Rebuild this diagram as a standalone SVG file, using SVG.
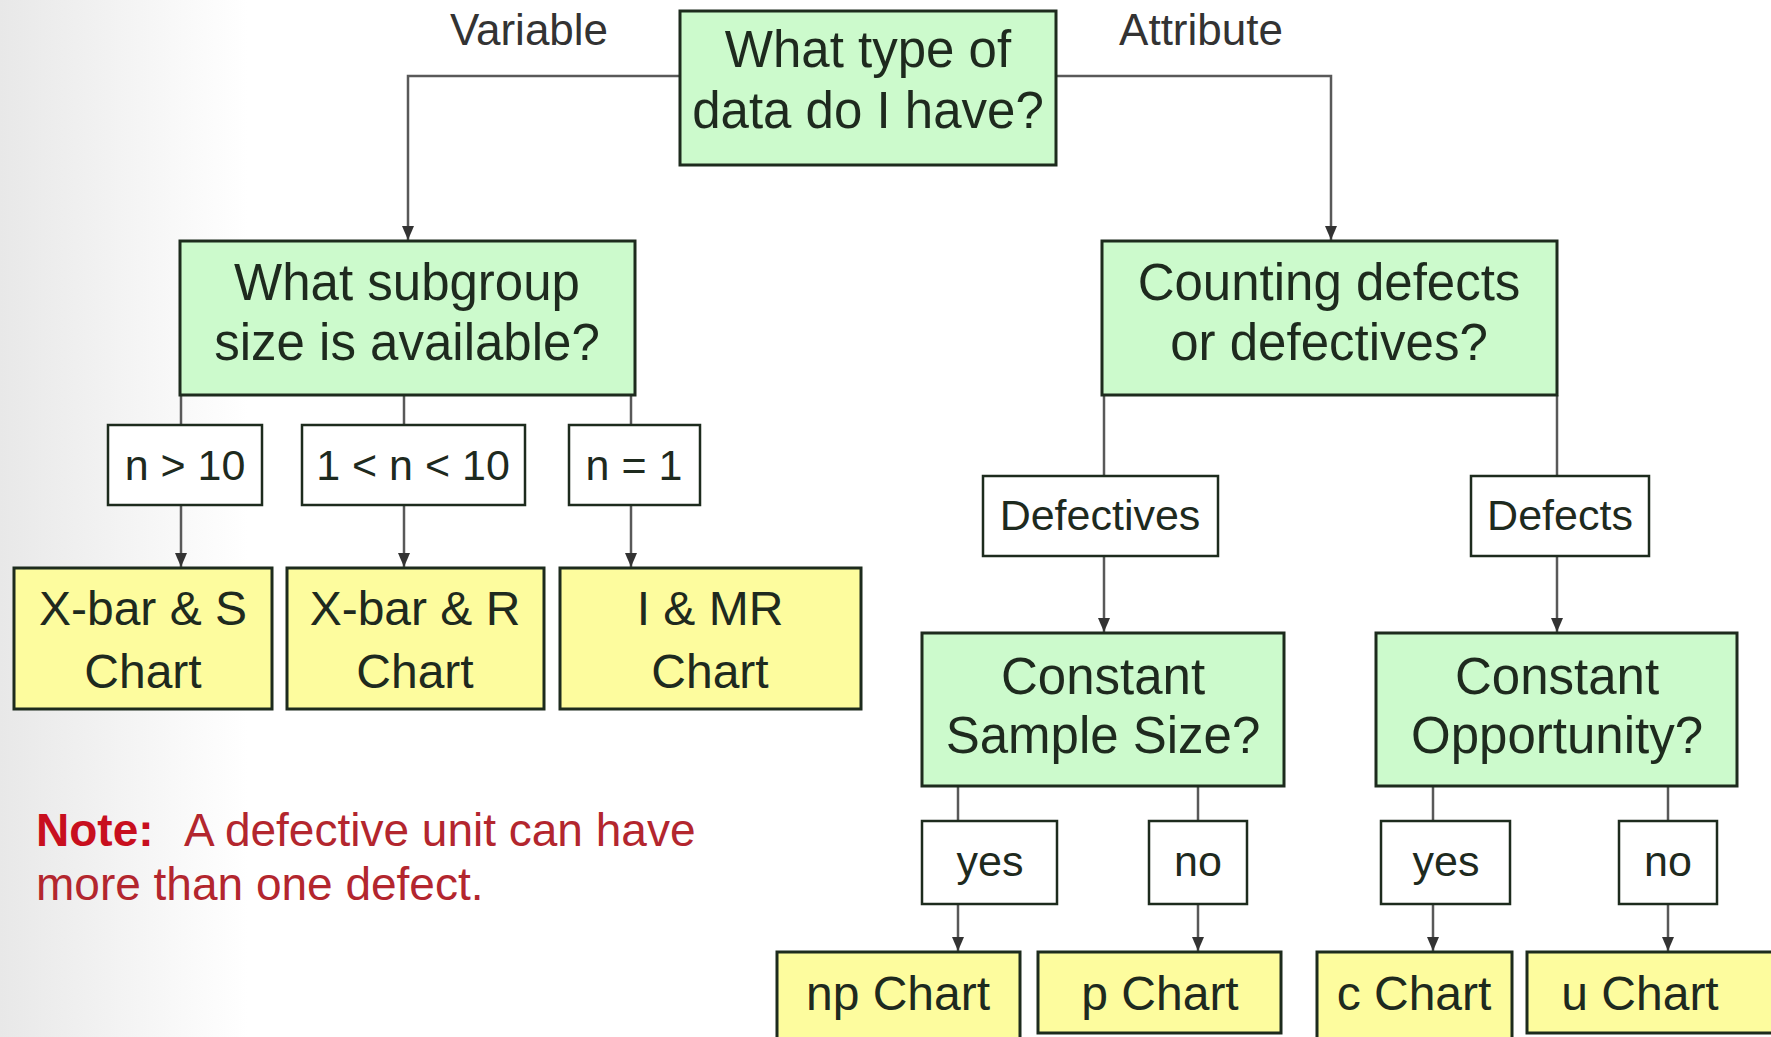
<svg xmlns="http://www.w3.org/2000/svg" width="1771" height="1037" viewBox="0 0 1771 1037">
<defs>
<linearGradient id="bg" x1="0" y1="0" x2="1" y2="0">
<stop offset="0" stop-color="#e8e8e8"/>
<stop offset="0.14" stop-color="#ffffff"/>
</linearGradient>
<marker id="arr" markerWidth="14" markerHeight="12" refX="14" refY="6" orient="auto" markerUnits="userSpaceOnUse" viewBox="0 0 14 12">
<path d="M0,0 L14,6 L0,12 Z" fill="#333333"/>
</marker>
<style>
.q{fill:#ccfacc;stroke:#1d2b1d;stroke-width:3}
.c{fill:#fdfc9e;stroke:#1d2b1d;stroke-width:3}
.l{fill:#ffffff;stroke:#1d2b1d;stroke-width:2.5}
text{font-family:"Liberation Sans",Arial,sans-serif;fill:#1e2a1e;text-anchor:middle}
.tq{font-size:51px}
.tc{font-size:48px}
.tl{font-size:43px}
.tv{font-size:44px;fill:#333333}
.note{font-size:46px;fill:#b3262e;text-anchor:start}
.conn path{fill:none;stroke:#595959;stroke-width:2.5}
</style>
</defs>
<rect x="0" y="0" width="1771" height="1037" fill="url(#bg)"/>

<g class="conn">
<path d="M680,76 H408 V240" marker-end="url(#arr)"/>
<path d="M1056,76 H1331 V240" marker-end="url(#arr)"/>
<path d="M181,395 V425"/>
<path d="M181,505 V567" marker-end="url(#arr)"/>
<path d="M404,395 V425"/>
<path d="M404,505 V567" marker-end="url(#arr)"/>
<path d="M631,395 V425"/>
<path d="M631,505 V567" marker-end="url(#arr)"/>
<path d="M1104,395 V476"/>
<path d="M1104,556 V632" marker-end="url(#arr)"/>
<path d="M1557,395 V476"/>
<path d="M1557,556 V632" marker-end="url(#arr)"/>
<path d="M958,786 V821"/>
<path d="M958,904 V951" marker-end="url(#arr)"/>
<path d="M1198,786 V821"/>
<path d="M1198,904 V951" marker-end="url(#arr)"/>
<path d="M1433,786 V821"/>
<path d="M1433,904 V951" marker-end="url(#arr)"/>
<path d="M1668,786 V821"/>
<path d="M1668,904 V951" marker-end="url(#arr)"/>
</g>

<text class="tv" x="529" y="45">Variable</text>
<text class="tv" x="1201" y="45">Attribute</text>

<g id="q-type">
<rect class="q" x="680" y="11" width="376" height="154"/>
<text class="tq" x="868" y="67">What type of</text>
<text class="tq" x="868" y="128">data do I have?</text>
</g>

<g id="q-subgroup">
<rect class="q" x="180" y="241" width="455" height="154"/>
<text class="tq" x="407" y="300">What subgroup</text>
<text class="tq" x="407" y="360">size is available?</text>
</g>

<g id="q-counting">
<rect class="q" x="1102" y="241" width="455" height="154"/>
<text class="tq" x="1329" y="300">Counting defects</text>
<text class="tq" x="1329" y="360">or defectives?</text>
</g>

<g id="l-n10">
<rect class="l" x="108" y="425" width="154" height="80"/>
<text class="tl" x="185" y="480">n &gt; 10</text>
</g>
<g id="l-1n10">
<rect class="l" x="302" y="425" width="223" height="80"/>
<text class="tl" x="413" y="480">1 &lt; n &lt; 10</text>
</g>
<g id="l-n1">
<rect class="l" x="569" y="425" width="131" height="80"/>
<text class="tl" x="634" y="480">n = 1</text>
</g>

<g id="c-xs">
<rect class="c" x="14" y="568" width="258" height="141"/>
<text class="tc" x="143" y="625">X-bar &amp; S</text>
<text class="tc" x="143" y="688">Chart</text>
</g>
<g id="c-xr">
<rect class="c" x="287" y="568" width="257" height="141"/>
<text class="tc" x="415" y="625">X-bar &amp; R</text>
<text class="tc" x="415" y="688">Chart</text>
</g>
<g id="c-imr">
<rect class="c" x="560" y="568" width="301" height="141"/>
<text class="tc" x="710" y="625">I &amp; MR</text>
<text class="tc" x="710" y="688">Chart</text>
</g>

<g id="l-defectives">
<rect class="l" x="983" y="476" width="235" height="80"/>
<text class="tl" x="1100" y="530">Defectives</text>
</g>
<g id="l-defects">
<rect class="l" x="1471" y="476" width="178" height="80"/>
<text class="tl" x="1560" y="530">Defects</text>
</g>

<g id="q-sample">
<rect class="q" x="922" y="633" width="362" height="153"/>
<text class="tq" x="1103" y="694">Constant</text>
<text class="tq" x="1103" y="753">Sample Size?</text>
</g>
<g id="q-opp">
<rect class="q" x="1376" y="633" width="361" height="153"/>
<text class="tq" x="1557" y="694">Constant</text>
<text class="tq" x="1557" y="753">Opportunity?</text>
</g>

<g id="l-yes1">
<rect class="l" x="922" y="821" width="135" height="83"/>
<text class="tl" x="990" y="876">yes</text>
</g>
<g id="l-no1">
<rect class="l" x="1149" y="821" width="98" height="83"/>
<text class="tl" x="1198" y="876">no</text>
</g>
<g id="l-yes2">
<rect class="l" x="1381" y="821" width="129" height="83"/>
<text class="tl" x="1446" y="876">yes</text>
</g>
<g id="l-no2">
<rect class="l" x="1619" y="821" width="98" height="83"/>
<text class="tl" x="1668" y="876">no</text>
</g>

<g id="c-np">
<rect class="c" x="777" y="952" width="243" height="95"/>
<text class="tc" x="898" y="1010">np Chart</text>
</g>
<g id="c-p">
<rect class="c" x="1038" y="952" width="243" height="81"/>
<text class="tc" x="1160" y="1010">p Chart</text>
</g>
<g id="c-c">
<rect class="c" x="1317" y="952" width="195" height="95"/>
<text class="tc" x="1414" y="1010">c Chart</text>
</g>
<g id="c-u">
<rect class="c" x="1527" y="952" width="260" height="81"/>
<text class="tc" x="1640" y="1010">u Chart</text>
</g>

<g id="note">
<text class="note" x="36" y="846"><tspan font-weight="bold" fill="#c80f1e">Note:</tspan><tspan x="184">A defective unit can have</tspan></text>
<text class="note" x="36" y="900">more than one defect.</text>
</g>
</svg>
